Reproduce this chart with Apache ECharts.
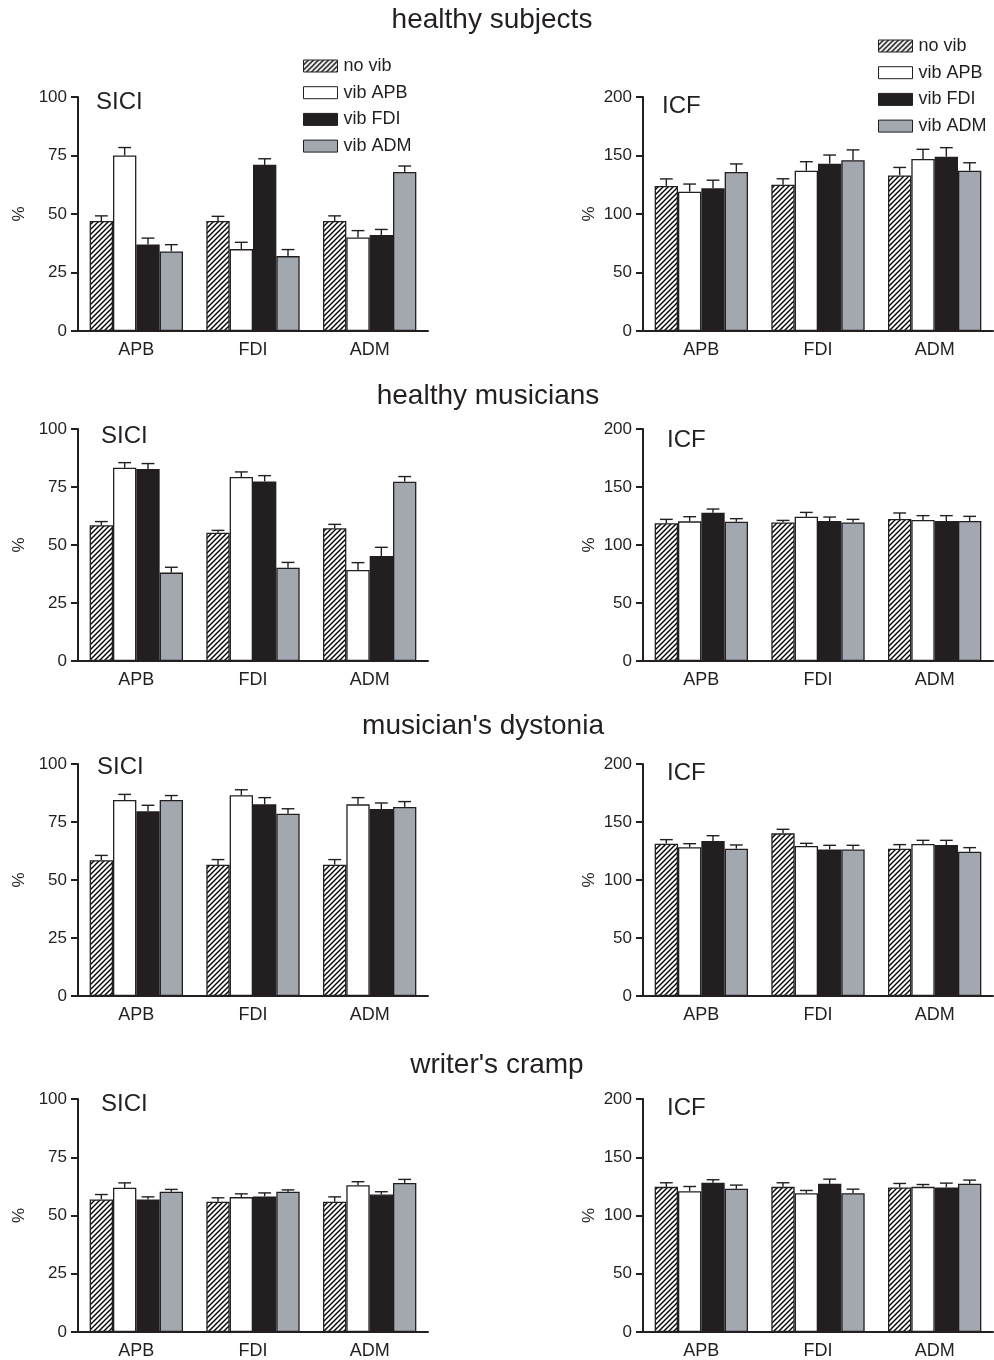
<!DOCTYPE html>
<html>
<head>
<meta charset="utf-8">
<script src="https://cdn.jsdelivr.net/npm/echarts@6/dist/echarts.min.js"></script>
<style>
html,body{margin:0;padding:0;background:#fff;}
#chart{width:994px;height:1360px;}
</style>
</head>
<body>
<div id="chart"></div>
<script>
// ---------- data ----------
const categories = ['APB', 'FDI', 'ADM'];
const seriesNames = ['no vib', 'vib APB', 'vib FDI', 'vib ADM'];
const groupTitles = ['healthy subjects', 'healthy musicians', "musician's dystonia", "writer's cramp"];
const panelLabels = ['SICI', 'ICF'];
const siciTicks = [0, 25, 50, 75, 100];
const icfTicks = [0, 50, 100, 150, 200];

// rows = series (no vib, vib APB, vib FDI, vib ADM), columns = categories (APB, FDI, ADM)
const hsSICI    = [[47, 47, 47], [75, 35, 40], [37, 71, 41], [34, 32, 68]];
const hsSICIerr = [[2.2, 2.0, 2.2], [3.4, 2.9, 2.9], [2.7, 2.6, 2.4], [2.9, 2.8, 2.5]];
const hsICF     = [[124, 125, 133], [119, 137, 147], [122, 143, 149], [136, 146, 137]];
const hsICFerr  = [[6.0, 5.1, 6.8], [6.6, 7.7, 8.3], [6.9, 7.4, 7.7], [6.8, 8.8, 6.8]];

const hmSICI    = [[58.5, 55.3, 57.2], [83.3, 79.3, 39.2], [82.8, 77.4, 45.3], [38.1, 40.2, 77.3]];
const hmSICIerr = [[1.6, 1.0, 1.7], [2.2, 2.2, 3.2], [2.3, 2.5, 3.7], [2.3, 2.3, 2.2]];
const hmICF     = [[118.7, 119.5, 122.4], [120.4, 124.4, 121.6], [127.9, 120.7, 120.7], [120.1, 119.5, 120.7]];
const hmICFerr  = [[3.4, 1.7, 5.2], [4.0, 3.7, 3.7], [3.1, 3.4, 4.6], [2.6, 2.6, 4.0]];

const mdSICI    = [[58.5, 56.6, 56.6], [84.5, 86.5, 82.6], [79.6, 82.6, 80.6], [84.5, 78.6, 81.5]];
const mdSICIerr = [[2.1, 2.2, 2.2], [2.4, 2.4, 2.9], [2.6, 2.9, 2.6], [1.9, 2.1, 2.3]];
const mdICF     = [[131.3, 140.2, 127.0], [128.2, 129.3, 131.0], [133.6, 126.4, 130.2], [127.0, 126.4, 124.4]];
const mdICFerr  = [[3.5, 3.5, 3.5], [3.1, 2.3, 3.2], [4.6, 3.5, 4.0], [3.2, 3.5, 3.5]];

const wcSICI    = [[56.9, 55.9, 55.9], [61.9, 57.9, 63.0], [56.9, 58.2, 59.0], [60.2, 60.2, 64.0]];
const wcSICIerr = [[2.1, 1.7, 2.1], [2.1, 1.4, 1.5], [1.1, 1.5, 1.2], [1.0, 0.8, 1.5]];
const wcICF     = [[124.6, 124.6, 124.1], [120.9, 119.2, 124.6], [128.1, 127.2, 124.1], [122.9, 119.2, 127.2]];
const wcICFerr  = [[3.5, 3.5, 3.4], [4.0, 2.3, 2.0], [2.6, 4.0, 3.7], [3.2, 3.4, 3.2]];

// ---------- layout / style ----------
const FONT = '"Liberation Sans", Arial, Helvetica, sans-serif';
const INK = '#231f20';
const GRAY = '#a3a8b0';

function hatch() {
  const s = 5;
  const c = document.createElement('canvas');
  c.width = s; c.height = s;
  const g = c.getContext('2d');
  g.fillStyle = '#fff';
  g.fillRect(0, 0, s, s);
  g.strokeStyle = '#000';
  g.lineWidth = 1.4;
  g.beginPath();
  g.moveTo(-1, s + 1); g.lineTo(s + 1, -1);
  g.moveTo(-1, 1); g.lineTo(1, -1);
  g.moveTo(s - 1, s + 1); g.lineTo(s + 1, s - 1);
  g.stroke();
  return c;
}
const hatchPattern = { image: hatch(), repeat: 'repeat' };
const fills = [hatchPattern, '#ffffff', INK, GRAY];

const panels = [
  { v: hsSICI, e: hsSICIerr, ticks: siciTicks, row: 0, col: 0 },
  { v: hsICF, e: hsICFerr, ticks: icfTicks, row: 0, col: 1 },
  { v: hmSICI, e: hmSICIerr, ticks: siciTicks, row: 1, col: 0 },
  { v: hmICF, e: hmICFerr, ticks: icfTicks, row: 1, col: 1 },
  { v: mdSICI, e: mdSICIerr, ticks: siciTicks, row: 2, col: 0 },
  { v: mdICF, e: mdICFerr, ticks: icfTicks, row: 2, col: 1 },
  { v: wcSICI, e: wcSICIerr, ticks: siciTicks, row: 3, col: 0 },
  { v: wcICF, e: wcICFerr, ticks: icfTicks, row: 3, col: 1 }
];
const gridTops = [97, 429, 764, 1099];
const gridHeights = [234, 232, 232, 233];
const gridLefts = [78, 643];
const gridWidth = 350;
const nameGaps = [50, 45];

const titlePos = [[492, 20], [488, 396], [483, 726], [497, 1065]];
const labelPos = [
  [[96, 102], [662, 106]],
  [[101, 436], [667, 440]],
  [[97, 767], [667, 773]],
  [[101, 1104], [667, 1108]]
];

const grids = [], xAxes = [], yAxes = [], series = [], graphics = [];

panels.forEach((p, i) => {
  grids.push({
    left: gridLefts[p.col], top: gridTops[p.row],
    width: gridWidth, height: gridHeights[p.row]
  });
  xAxes.push({
    type: 'category', gridIndex: i, data: categories,
    axisLine: { lineStyle: { color: INK, width: 2 } },
    axisTick: { show: false },
    axisLabel: { color: INK, fontSize: 18, fontFamily: FONT, margin: 10 }
  });
  const t = p.ticks;
  yAxes.push({
    type: 'value', gridIndex: i,
    min: t[0], max: t[t.length - 1], interval: t[1] - t[0],
    splitLine: { show: false },
    axisLine: { show: true, lineStyle: { color: INK, width: 2 } },
    axisTick: { show: true, length: 7, lineStyle: { color: INK, width: 2 } },
    axisLabel: { color: INK, fontSize: 17, fontFamily: FONT, margin: 11 },
    name: '%', nameLocation: 'middle', nameGap: nameGaps[p.col], nameRotate: 90,
    nameTextStyle: { color: INK, fontSize: 17, fontFamily: FONT }
  });
  seriesNames.forEach((nm, s) => {
    series.push({
      type: 'bar', name: nm, xAxisIndex: i, yAxisIndex: i,
      data: p.v[s],
      barGap: '0%', barCategoryGap: '20%',
      itemStyle: { color: fills[s], borderColor: INK, borderWidth: 1.3 },
      emphasis: { disabled: true },
      animation: false, z: 3
    });
    const errData = p.v[s].map((val, k) => [k, val, p.e[s][k]]);
    series.push({
      type: 'custom', name: 'err', xAxisIndex: i, yAxisIndex: i,
      data: errData, z: 2, animation: false, silent: true,
      renderItem: (params, api) => {
        const ci = api.value(0), val = api.value(1), er = api.value(2);
        const base = api.coord([ci, val]);
        const top = api.coord([ci, val + er]);
        const band = api.size([1, 0])[0];
        const bw = band * 0.8 / 4;
        const x = base[0] + (s - 1.5) * bw;
        const cap = bw * 0.55;
        const style = { stroke: INK, lineWidth: 1.4 };
        return {
          type: 'group',
          children: [
            { type: 'line', shape: { x1: x, y1: base[1], x2: x, y2: top[1] }, style },
            { type: 'line', shape: { x1: x - cap / 2, y1: top[1], x2: x + cap / 2, y2: top[1] }, style }
          ]
        };
      }
    });
  });
  const lp = labelPos[p.row][p.col];
  graphics.push({
    type: 'text', x: lp[0], y: lp[1],
    style: { text: panelLabels[p.col], font: '24px ' + FONT, fill: INK, textAlign: 'left', textVerticalAlign: 'middle' }
  });
});

groupTitles.forEach((tt, r) => {
  graphics.push({
    type: 'text', x: titlePos[r][0], y: titlePos[r][1],
    style: { text: tt, font: '28px ' + FONT, fill: INK, textAlign: 'center', textVerticalAlign: 'middle' }
  });
});

const legendCommon = {
  data: seriesNames, orient: 'vertical', icon: 'rect',
  itemWidth: 34, itemHeight: 12, itemGap: 8.7, padding: 0,
  selectedMode: false,
  itemStyle: { borderColor: INK, borderWidth: 1 },
  textStyle: { color: INK, fontSize: 18, fontFamily: FONT, lineHeight: 18, padding: [0, 0, 0, 1] }
};

const option = {
  backgroundColor: '#fff',
  animation: false,
  grid: grids, xAxis: xAxes, yAxis: yAxes, series,
  legend: [
    Object.assign({ left: 303, top: 57 }, legendCommon),
    Object.assign({ left: 878, top: 37 }, legendCommon)
  ],
  graphic: graphics
};

const chart = echarts.init(document.getElementById('chart'), null, { renderer: 'canvas' });
chart.setOption(option);
</script>
</body>
</html>
